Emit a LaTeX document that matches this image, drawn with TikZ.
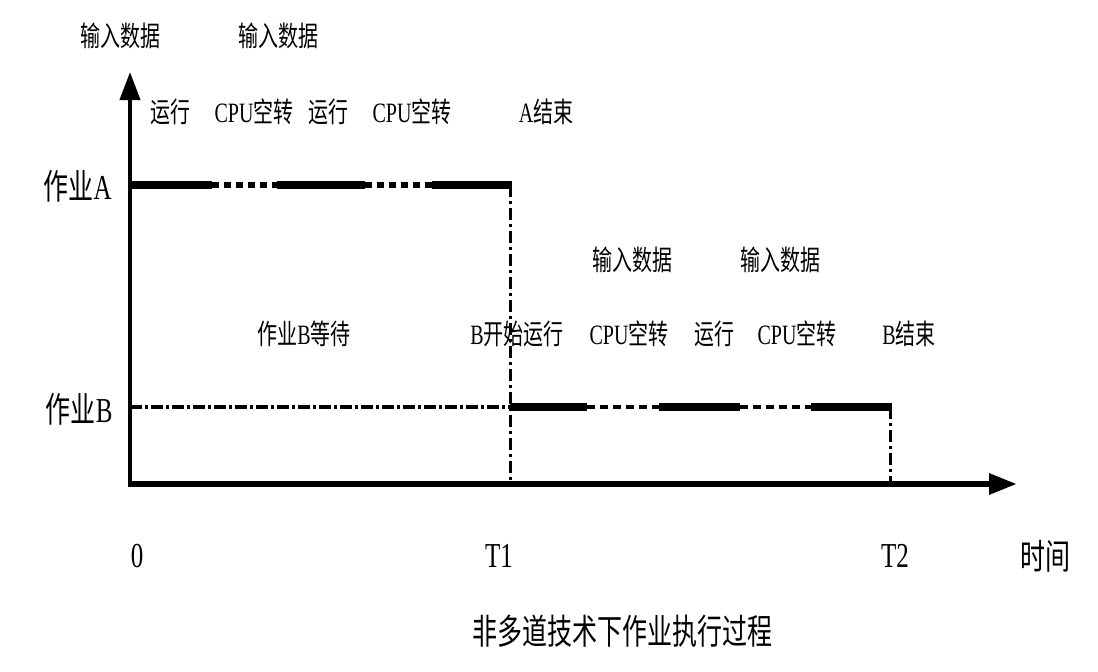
\documentclass[tikz,border=0pt]{standalone}
\usepackage{fontspec}
\setmainfont{Liberation Serif}
\newfontfamily\cjk{Noto Sans CJK SC}
\usetikzlibrary{arrows.meta, positioning}
\tikzstyle{axis} = [line width=2pt, -{Triangle[length=14pt, width=10pt]}]
\tikzstyle{run} = [line width=4pt]
\tikzstyle{idleA} = [line width=3pt, dash pattern=on 3.5pt off 2.5pt]
\tikzstyle{idleB} = [line width=2pt, dash pattern=on 4pt off 2.5pt]
\tikzstyle{wait} = [line width=2pt, dash pattern=on 6pt off 1.5pt on 1.5pt off 1.5pt]
\tikzstyle{guide} = [line width=1.5pt, dash pattern=on 6pt off 2pt on 1.5pt off 2pt]
\tikzstyle{lbl} = [font=\fontsize{10}{12}\selectfont, yscale=1.4, inner sep=1pt]
\tikzstyle{big} = [font=\fontsize{12.5}{15}\selectfont, yscale=1.4, inner sep=1pt]

\begin{document}
\begin{tikzpicture}[x=0.5pt, y=-0.5pt]
		\useasboundingbox (0,0) rectangle (1098,671);
		% axes and time marks
		\coordinate (O) at (130,484);
		\coordinate (Ytop) at (130,72);
		\coordinate (Xend) at (1017,484);
		\coordinate (XT1) at (510,484);
		\coordinate (XT2) at (890,484);
		% job A
		\coordinate (A0) at (130,185);
		\coordinate (a1) at (212,185);
		\coordinate (a2) at (277,185);
		\coordinate (a3) at (365,185);
		\coordinate (a4) at (432,185);
		\coordinate (AT1) at (510,185);
		% job B
		\coordinate (B0) at (130,407);
		\coordinate (BT1) at (510,407);
		\coordinate (b1) at (587,407);
		\coordinate (b2) at (659,407);
		\coordinate (b3) at (740,407);
		\coordinate (b4) at (811,407);
		\coordinate (BT2) at (890,407);
		\draw [axis] (O.center) -- (Ytop);
		\draw [axis, line width=3pt] ([xshift=-1pt]O) -- (Xend);
		\draw [run] (A0) -- (a1);
		\draw [idleA] (a1) -- (a2);
		\draw [run] (a2) -- (a3);
		\draw [idleA] (a3) -- (a4);
		\draw [run] (a4) -- ([xshift=1pt]AT1);
		\draw [guide] (AT1) -- (XT1);
		\draw [wait] (B0) -- (BT1);
		\draw [run] (BT1) -- (b1);
		\draw [idleB] (b1) -- (b2);
		\draw [run] (b2) -- (b3);
		\draw [idleB] (b3) -- (b4);
		\draw [run] (b4) -- ([xshift=1pt]BT2);
		\draw [guide] (BT2) -- (XT2);
		% labels of job A
		\node (inA1) [lbl] at (120,36) {{\cjk 输入数据}};
		\node (inA2) [lbl] at (278,36) {{\cjk 输入数据}};
		\node (runA1) [lbl] at (170,112) {{\cjk 运行}};
		\node (idleA1) [lbl] at (254,112) {CPU{\cjk 空转}};
		\node (runA2) [lbl] at (328,112) {{\cjk 运行}};
		\node (idleA2) [lbl] at (412,112) {CPU{\cjk 空转}};
		\node (endA) [lbl] at (546,112) {A{\cjk 结束}};
		\node (jobA) [big, anchor=east] at (114,186) {{\cjk 作业}A};
		% labels of job B
		\node (inB1) [lbl] at (632,260) {{\cjk 输入数据}};
		\node (inB2) [lbl] at (780,260) {{\cjk 输入数据}};
		\node (waitB) [lbl] at (304,334) {{\cjk 作业}B{\cjk 等待}};
		\node (startB) [lbl] at (517,334) {B{\cjk 开始运行}};
		\node (idleB1) [lbl] at (629,334) {CPU{\cjk 空转}};
		\node (runB2) [lbl] at (714,334) {{\cjk 运行}};
		\node (idleB2) [lbl] at (797,334) {CPU{\cjk 空转}};
		\node (endB) [lbl] at (909,334) {B{\cjk 结束}};
		\node (jobB) [big, anchor=east] at (115,409) {{\cjk 作业}B};
		% time axis
		\node (t0) [big] at (137,556) {0};
		\node (t1) [big] at (499,556) {T1};
		\node (t2) [big] at (895,556) {T2};
		\node (tlabel) [big] at (1045,556) {{\cjk 时间}};
		\node (caption) [big] at (622,631) {{\cjk 非多道技术下作业执行过程}};
\end{tikzpicture}
\end{document}
